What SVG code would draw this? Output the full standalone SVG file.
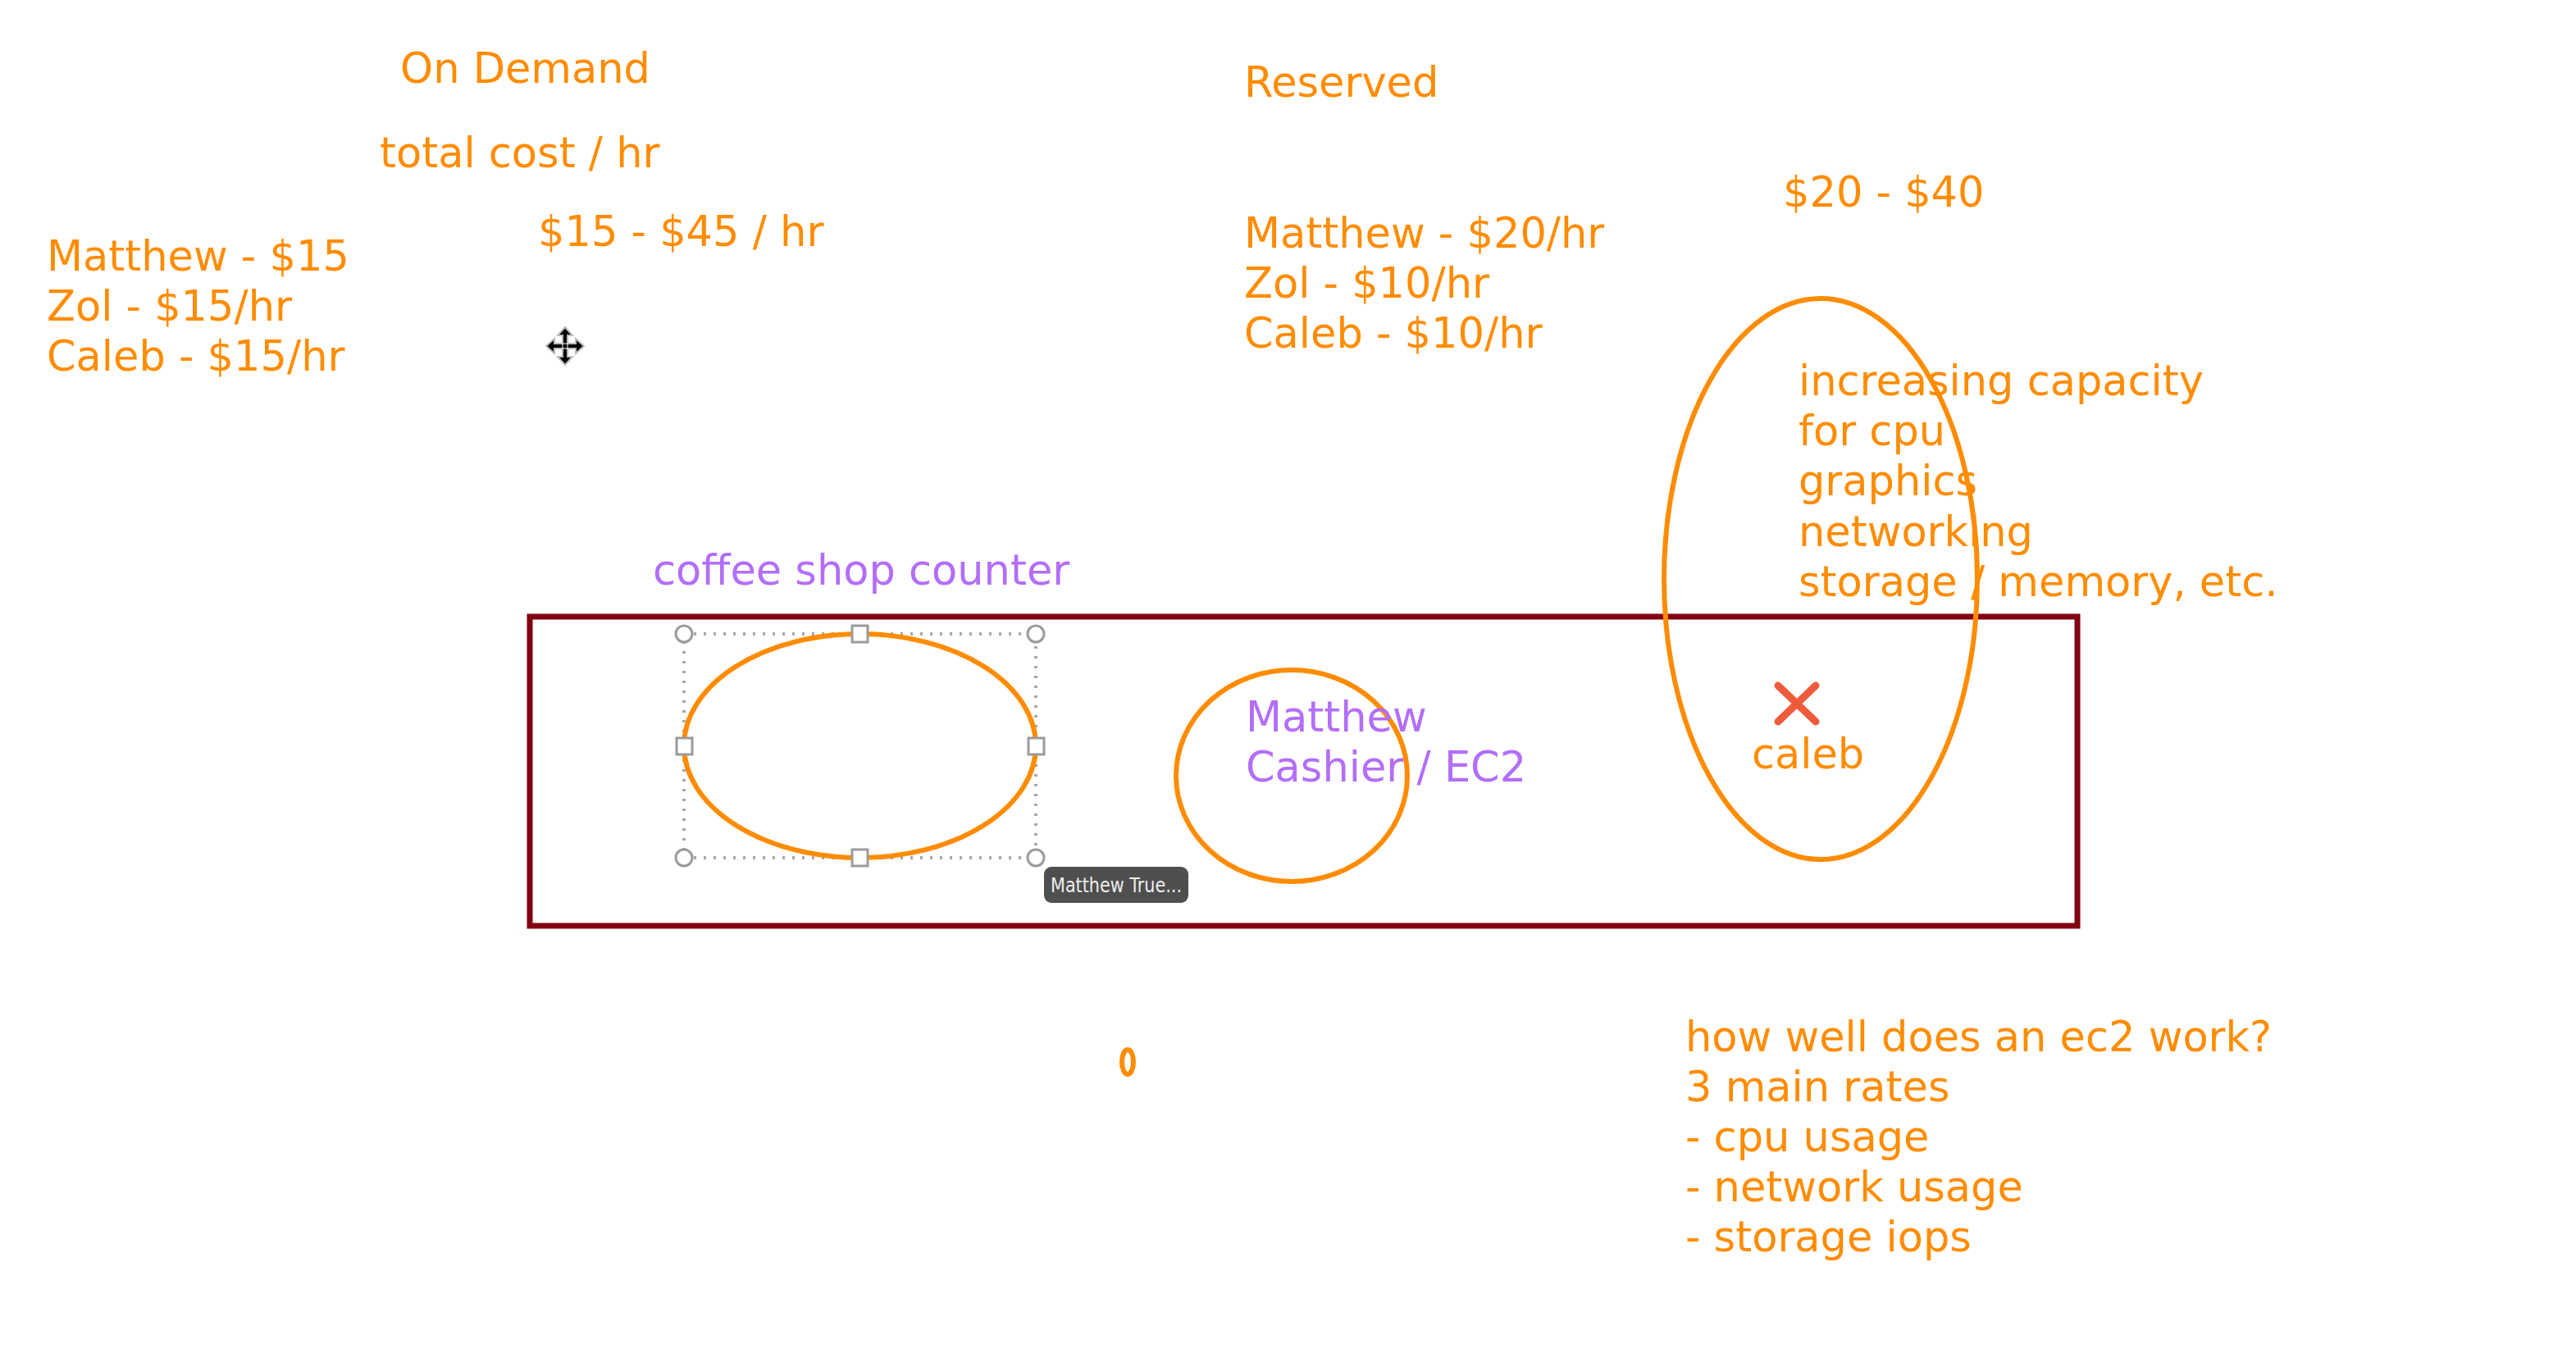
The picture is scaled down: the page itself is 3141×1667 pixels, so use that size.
<svg xmlns="http://www.w3.org/2000/svg" width="3141" height="1667" viewBox="0 0 3141 1667">
<style>
text{font-family:"DejaVu Sans","Liberation Sans",sans-serif;font-size:51px}
.o{fill:#FF8C00}
.p{fill:#B36EF8}
.oe{fill:none;stroke:#FF8C00;stroke-width:6}
.h{fill:#fff;stroke:#9a9a9a;stroke-width:3}
</style>
<rect width="3141" height="1667" fill="#fff"/>
<g id="on-demand">
<text class="o" x="488" y="101">On Demand</text>
<text class="o" x="463" y="204">total cost / hr</text>
<text class="o" x="656" y="300">$15 - $45 / hr</text>
</g>
<g id="on-demand-rates">
<text class="o" x="57" y="330">Matthew - $15</text>
<text class="o" x="57" y="391">Zol - $15/hr</text>
<text class="o" x="57" y="452">Caleb - $15/hr</text>
</g>
<g id="move-cursor" transform="translate(689,422)">
<polygon points="0,-23 9,-13 3,-13 3,-3 13,-3 13,-9 23,0 13,9 13,3 3,3 3,13 9,13 0,23 -9,13 -3,13 -3,3 -13,3 -13,9 -23,0 -13,-9 -13,-3 -3,-3 -3,-13 -9,-13" fill="#000" stroke="#bbb" stroke-width="2"/>
<path d="M-3,-3 h6 v6 h-6 z" fill="none" stroke="#fff" stroke-width="1"/>
</g>
<g id="reserved">
<text class="o" x="1517" y="118">Reserved</text>
<text class="o" x="1517" y="302">Matthew - $20/hr</text>
<text class="o" x="1517" y="363">Zol - $10/hr</text>
<text class="o" x="1517" y="424">Caleb - $10/hr</text>
<text class="o" x="2174" y="252">$20 - $40</text>
</g>
<g id="counter">
<rect x="646" y="752" width="1887" height="377" fill="none" stroke="#820012" stroke-width="7"/>
<text class="p" x="796" y="713">coffee shop counter</text>
</g>
<g id="selected-ellipse">
<rect x="834" y="773" width="429" height="273" fill="none" stroke="#a8a8a8" stroke-width="4" stroke-dasharray="3 9"/>
<ellipse class="oe" cx="1048.5" cy="909.5" rx="214.5" ry="136.5"/>
<circle class="h" cx="834" cy="773" r="10"/>
<circle class="h" cx="1263" cy="773" r="10"/>
<circle class="h" cx="834" cy="1046" r="10"/>
<circle class="h" cx="1263" cy="1046" r="10"/>
<rect class="h" x="1039" y="763" width="19" height="20"/>
<rect class="h" x="1039" y="1036" width="19" height="20"/>
<rect class="h" x="825" y="900" width="19" height="20"/>
<rect class="h" x="1254" y="900" width="19" height="20"/>
</g>
<g id="tooltip">
<rect x="1273" y="1057" width="176" height="44" rx="9" fill="#4f4f4f"/>
<text x="1281" y="1088" font-size="25" fill="#eeeeee" textLength="160" lengthAdjust="spacingAndGlyphs" style="font-size:25px">Matthew True...</text>
</g>
<g id="cashier">
<ellipse class="oe" cx="1575" cy="946" rx="141" ry="129"/>
<text class="p" x="1519" y="892">Matthew</text>
<text class="p" x="1519" y="953">Cashier / EC2</text>
</g>
<g id="capacity">
<ellipse class="oe" cx="2220" cy="706" rx="191" ry="342"/>
<text class="o" x="2193" y="482">increasing capacity</text>
<text class="o" x="2193" y="543">for cpu</text>
<text class="o" x="2193" y="604">graphics</text>
<text class="o" x="2193" y="666">networking</text>
<text class="o" x="2193" y="727">storage / memory, etc.</text>
</g>
<g id="caleb">
<path d="M2168,836 L2214,880 M2214,836 L2168,880" stroke="#F05A3C" stroke-width="9" stroke-linecap="round" fill="none"/>
<text class="o" x="2136" y="937">caleb</text>
</g>
<g id="small-mark">
<ellipse class="oe" cx="1375" cy="1295" rx="7" ry="15"/>
</g>
<g id="ec2-metrics">
<text class="o" x="2055" y="1282">how well does an ec2 work?</text>
<text class="o" x="2055" y="1343">3 main rates</text>
<text class="o" x="2055" y="1404">- cpu usage</text>
<text class="o" x="2055" y="1465">- network usage</text>
<text class="o" x="2055" y="1526">- storage iops</text>
</g>
<g id="connectors"/>
</svg>
